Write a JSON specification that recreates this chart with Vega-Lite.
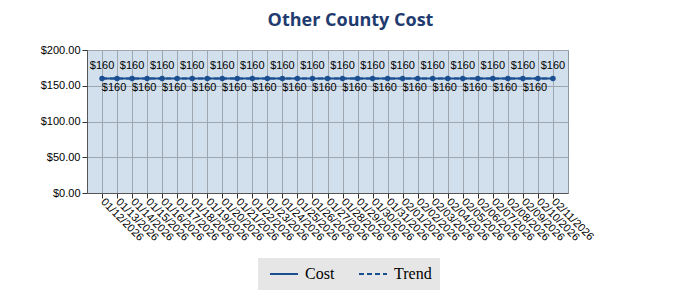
{
  "$schema": "https://vega.github.io/schema/vega-lite/v6.json",
  "width": 481,
  "height": 143,
  "autosize": {"type": "none"},
  "padding": {"left": 87, "top": 50, "right": 132, "bottom": 107},
  "background": "white",
  "title": {
    "text": "Other County Cost",
    "anchor": "middle",
    "frame": "group",
    "dx": 23,
    "offset": 14,
    "font": "Open Sans",
    "fontSize": 18,
    "fontWeight": "bold",
    "color": "#1f3b70"
  },
  "data": {
    "values": [
      {"date": "01/12/2026", "series": "Cost", "value": 160},
      {"date": "01/13/2026", "series": "Cost", "value": 160},
      {"date": "01/14/2026", "series": "Cost", "value": 160},
      {"date": "01/15/2026", "series": "Cost", "value": 160},
      {"date": "01/16/2026", "series": "Cost", "value": 160},
      {"date": "01/17/2026", "series": "Cost", "value": 160},
      {"date": "01/18/2026", "series": "Cost", "value": 160},
      {"date": "01/19/2026", "series": "Cost", "value": 160},
      {"date": "01/20/2026", "series": "Cost", "value": 160},
      {"date": "01/21/2026", "series": "Cost", "value": 160},
      {"date": "01/22/2026", "series": "Cost", "value": 160},
      {"date": "01/23/2026", "series": "Cost", "value": 160},
      {"date": "01/24/2026", "series": "Cost", "value": 160},
      {"date": "01/25/2026", "series": "Cost", "value": 160},
      {"date": "01/26/2026", "series": "Cost", "value": 160},
      {"date": "01/27/2026", "series": "Cost", "value": 160},
      {"date": "01/28/2026", "series": "Cost", "value": 160},
      {"date": "01/29/2026", "series": "Cost", "value": 160},
      {"date": "01/30/2026", "series": "Cost", "value": 160},
      {"date": "01/31/2026", "series": "Cost", "value": 160},
      {"date": "02/01/2026", "series": "Cost", "value": 160},
      {"date": "02/02/2026", "series": "Cost", "value": 160},
      {"date": "02/03/2026", "series": "Cost", "value": 160},
      {"date": "02/04/2026", "series": "Cost", "value": 160},
      {"date": "02/05/2026", "series": "Cost", "value": 160},
      {"date": "02/06/2026", "series": "Cost", "value": 160},
      {"date": "02/07/2026", "series": "Cost", "value": 160},
      {"date": "02/08/2026", "series": "Cost", "value": 160},
      {"date": "02/09/2026", "series": "Cost", "value": 160},
      {"date": "02/10/2026", "series": "Cost", "value": 160},
      {"date": "02/11/2026", "series": "Cost", "value": 160},
      {"date": "01/12/2026", "series": "Trend", "value": 160},
      {"date": "01/13/2026", "series": "Trend", "value": 160},
      {"date": "01/14/2026", "series": "Trend", "value": 160},
      {"date": "01/15/2026", "series": "Trend", "value": 160},
      {"date": "01/16/2026", "series": "Trend", "value": 160},
      {"date": "01/17/2026", "series": "Trend", "value": 160},
      {"date": "01/18/2026", "series": "Trend", "value": 160},
      {"date": "01/19/2026", "series": "Trend", "value": 160},
      {"date": "01/20/2026", "series": "Trend", "value": 160},
      {"date": "01/21/2026", "series": "Trend", "value": 160},
      {"date": "01/22/2026", "series": "Trend", "value": 160},
      {"date": "01/23/2026", "series": "Trend", "value": 160},
      {"date": "01/24/2026", "series": "Trend", "value": 160},
      {"date": "01/25/2026", "series": "Trend", "value": 160},
      {"date": "01/26/2026", "series": "Trend", "value": 160},
      {"date": "01/27/2026", "series": "Trend", "value": 160},
      {"date": "01/28/2026", "series": "Trend", "value": 160},
      {"date": "01/29/2026", "series": "Trend", "value": 160},
      {"date": "01/30/2026", "series": "Trend", "value": 160},
      {"date": "01/31/2026", "series": "Trend", "value": 160},
      {"date": "02/01/2026", "series": "Trend", "value": 160},
      {"date": "02/02/2026", "series": "Trend", "value": 160},
      {"date": "02/03/2026", "series": "Trend", "value": 160},
      {"date": "02/04/2026", "series": "Trend", "value": 160},
      {"date": "02/05/2026", "series": "Trend", "value": 160},
      {"date": "02/06/2026", "series": "Trend", "value": 160},
      {"date": "02/07/2026", "series": "Trend", "value": 160},
      {"date": "02/08/2026", "series": "Trend", "value": 160},
      {"date": "02/09/2026", "series": "Trend", "value": 160},
      {"date": "02/10/2026", "series": "Trend", "value": 160},
      {"date": "02/11/2026", "series": "Trend", "value": 160}
    ]
  },
  "encoding": {
    "x": {
      "field": "date",
      "type": "ordinal",
      "sort": null,
      "scale": {"type": "point", "padding": 1},
      "axis": {
        "title": null,
        "labelAngle": 45,
        "labelAlign": "left",
        "labelBaseline": "middle",
        "labelFont": "Liberation Sans",
        "labelFontSize": 11,
        "labelColor": "#000000",
        "labelPadding": 2,
        "tickColor": "#333333",
        "tickSize": 5,
        "domainColor": "#555555",
        "grid": true,
        "gridColor": "#9ea7b0"
      }
    },
    "y": {
      "field": "value",
      "type": "quantitative",
      "scale": {"domain": [0, 200]},
      "axis": {
        "title": null,
        "values": [0, 50, 100, 150, 200],
        "format": "$,.2f",
        "labelFont": "Liberation Sans",
        "labelFontSize": 11,
        "labelColor": "#000000",
        "labelPadding": 2,
        "tickColor": "#333333",
        "tickSize": 5,
        "domainColor": "#555555",
        "grid": true,
        "gridColor": "#9ea7b0"
      }
    }
  },
  "layer": [
    {
      "mark": {"type": "line", "strokeWidth": 2},
      "encoding": {
        "color": {
          "field": "series",
          "type": "nominal",
          "scale": {"domain": ["Cost", "Trend"], "range": ["#1b4f91", "#1b4f91"]},
          "legend": {"title": null}
        },
        "strokeDash": {
          "field": "series",
          "type": "nominal",
          "scale": {"domain": ["Cost", "Trend"], "range": [[1, 0], [5, 3]]},
          "legend": {"title": null}
        }
      }
    },
    {
      "transform": [{"filter": "datum.series == 'Cost'"}],
      "mark": {"type": "point", "filled": true, "size": 30, "opacity": 1, "color": "#1b4f91"}
    },
    {
      "transform": [
        {"filter": "datum.series == 'Cost'"},
        {"window": [{"op": "row_number", "as": "idx"}]},
        {"filter": "datum.idx % 2 == 1"}
      ],
      "mark": {"type": "text", "dy": -13, "font": "Liberation Sans", "fontSize": 11, "color": "#000000"},
      "encoding": {"text": {"field": "value", "type": "quantitative", "format": "$,.0f"}}
    },
    {
      "transform": [
        {"filter": "datum.series == 'Cost'"},
        {"window": [{"op": "row_number", "as": "idx"}]},
        {"filter": "datum.idx % 2 == 0"}
      ],
      "mark": {"type": "text", "dy": 9, "dx": -3, "font": "Liberation Sans", "fontSize": 11, "color": "#000000"},
      "encoding": {"text": {"field": "value", "type": "quantitative", "format": "$,.0f"}}
    }
  ],
  "config": {
    "view": {"fill": "#d2dfec", "stroke": "#8e98a3"},
    "legend": {
      "orient": "none",
      "legendX": 171,
      "legendY": 208,
      "direction": "horizontal",
      "fillColor": "#e6e6e6",
      "padding": 8,
      "symbolType": "M-2,0H2",
      "symbolSize": 196,
      "symbolStrokeWidth": 2,
      "symbolOffset": 10,
      "labelFont": "Liberation Serif",
      "labelFontSize": 16,
      "labelColor": "#000000",
      "columnPadding": 20,
      "labelOffset": 13
    }
  }
}
